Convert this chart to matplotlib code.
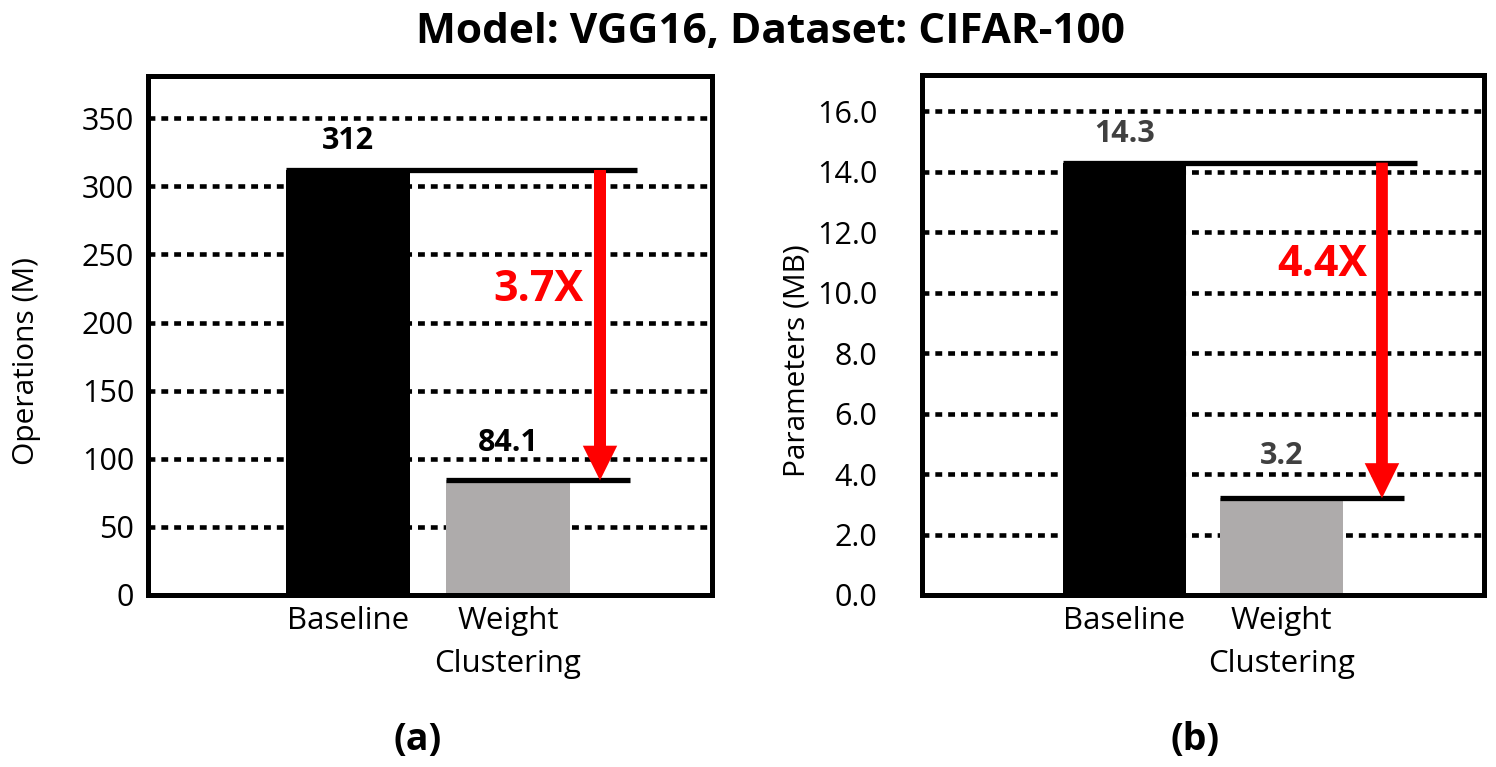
import matplotlib
matplotlib.use("Agg")
import matplotlib.pyplot as plt

plt.rcParams['font.family'] = ['Open Sans', 'DejaVu Sans']

categories = ["Baseline", "Weight\nClustering"]
ops_values = [312, 84.1]
ops_labels = ["312", "84.1"]
ops_speedup = "3.7X"
params_values = [14.3, 3.2]
params_labels = ["14.3", "3.2"]
params_speedup = "4.4X"
ops_ticks = [0, 50, 100, 150, 200, 250, 300, 350]
params_ticks = [0, 2, 4, 6, 8, 10, 12, 14, 16]
params_ticklabels = ["0.0", "2.0", "4.0", "6.0", "8.0", "10.0", "12.0", "14.0", "16.0"]

W, H = 1496, 767
fig = plt.figure(figsize=(W / 100, H / 100), dpi=100)

def px_ax(x0, y0, x1, y1):
    return fig.add_axes([x0 / W, 1 - y1 / H, (x1 - x0) / W, (y1 - y0) / H])

ax1 = px_ax(148, 76, 712, 595)
ax2 = px_ax(922, 75, 1484, 595)

bar_colors = ["#000000", "#AEABAB"]
bw = 0.78

def draw(ax, vals, labels, ticks, ticklabels, ylim, xlim, line_end, arrow_x,
         shaft, headw, headl, label_offsets, label_color, speed, speed_pos,
         ylabel, label_x, pad):
    x = [0, 1]
    ax.set_xlim(*xlim)
    ax.set_ylim(*ylim)
    ax.set_axisbelow(True)
    ax.set_yticks(ticks)
    ax.set_yticklabels(ticklabels)
    ax.yaxis.grid(True, color="black", linewidth=3.3, linestyle=(0, (1.5, 1.3)))
    ax.xaxis.grid(False)
    ax.bar(x, vals, width=bw, color=bar_colors, zorder=2)
    for i, v in enumerate(vals):
        ax.hlines(v, x[i] - bw / 2, line_end[i], colors="black", linewidth=3.8, zorder=3)
        ax.annotate(labels[i], xy=(x[i], v), xytext=(0, label_offsets[i]),
                    textcoords="offset pixels", ha="center", va="center",
                    fontsize=22, fontweight="bold", color=label_color, zorder=5)
    ax.arrow(arrow_x, vals[0], 0, vals[1] - vals[0], width=shaft, head_width=headw,
             head_length=headl, length_includes_head=True, color="#FF0000",
             linewidth=0, zorder=4)
    ax.text(speed_pos[0], speed_pos[1], speed, ha="center", va="center",
            fontsize=31, fontweight="bold", color="#FF0000", zorder=5)
    ax.set_xticks(x)
    ax.set_xticklabels(categories, fontsize=22.5, linespacing=1.55)
    ax.tick_params(axis="both", length=0)
    ax.tick_params(axis="y", pad=pad, labelsize=22)
    ax.tick_params(axis="x", pad=8, labelsize=22.5)
    for s in ax.spines.values():
        s.set_linewidth(3.6)
        s.set_color("black")
        s.set_zorder(6)
    ax.set_ylabel(ylabel, fontsize=21.5)
    ax.yaxis.set_label_coords(label_x, 0.45)

draw(ax1, ops_values, ops_labels, ops_ticks, [str(t) for t in ops_ticks],
     (0, 381), (-1.25, 2.275), [1.806, 1.76], 1.575,
     0.075, 0.215, 25.5, [29, 37], "black", ops_speedup, (1.19, 224),
     "Operations (M)", -0.19, 10)

draw(ax2, params_values, params_labels, params_ticks, params_ticklabels,
     (0, 17.2), (-1.29, 2.29), [1.866, 1.78], 1.64,
     0.075, 0.22, 1.16, [29, 42], "#404040", params_speedup, (1.26, 10.93),
     "Parameters (MB)", -0.196, 32)

fig.text(0.515, 1 - 32 / H, "Model: VGG16, Dataset: CIFAR-100", ha="center", va="center",
         fontsize=30.5, fontweight="bold")
fig.text(418 / W, 1 - 740 / H, "(a)", ha="center", va="center", fontsize=27, fontweight="bold")
fig.text(1195 / W, 1 - 740 / H, "(b)", ha="center", va="center", fontsize=27, fontweight="bold")

fig.savefig("out.png", dpi=100)
